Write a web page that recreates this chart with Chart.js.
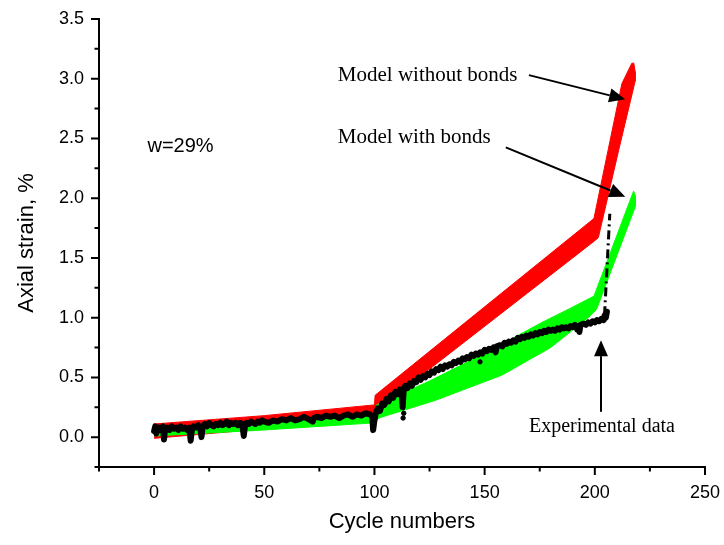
<!DOCTYPE html>
<html>
<head>
<title>Axial strain</title>
<script src="https://cdn.jsdelivr.net/npm/chart.js@4"></script>
<style>
  html, body { margin: 0; padding: 0; background: #fff; }
  .strain-chart { width: 724px; height: 545px; }
</style>
</head>
<body>
<div class="strain-chart">
  <canvas id="chart"></canvas>
</div>

<script type="text/javascript">
// model without bonds: upper and lower edge of the (cycle, strain %) band
const redUpper = [[0, 0.11], [50, 0.18], [100, 0.27], [100.3, 0.35], [199.6, 1.83], [206, 2.40], [212.3, 2.96], [216.8, 3.13], [217.7, 3.13]];
const redLower = [[0, -0.01], [50, 0.07], [100, 0.15], [100.6, 0.22], [200.4, 1.65], [201.6, 1.67], [210.8, 2.40], [218.3, 2.98], [218.3, 3.06]];

// model with bonds
const greenUpper = [[0, 0.07], [50, 0.13], [100, 0.20], [101, 0.27], [125, 0.47], [150, 0.70], [176, 0.96], [188, 1.07], [199.6, 1.18], [217.6, 2.06]];
const greenLower = [[0, 0.01], [50, 0.06], [100, 0.12], [102, 0.16], [128, 0.31], [158, 0.52], [180, 0.75], [197, 1.00], [200.8, 1.07], [218.4, 1.93], [218.4, 2.02]];

// experimental data (cycle, strain %)
const expCycles = [
  0, 0.5, 1, 2, 3, 4, 4.5, 5, 6, 7, 8, 9, 10, 11, 12, 13, 14, 15, 16, 16.6, 17.2, 18, 19, 20, 21, 21.5, 22, 23, 24, 25,
  26, 27, 28, 29, 30, 31, 32, 33, 34, 35, 36, 37, 38, 39, 40, 40.7, 41.3, 42, 43, 44, 45, 46, 47, 48, 49, 50,
  52, 54, 56, 58, 60, 62, 64, 66, 68, 70, 72, 72.5, 74, 76, 78, 80, 82, 84, 86, 88, 90, 92, 94, 96, 98, 99, 99.4, 100,
  100.6, 101.5, 102.5, 103.5, 104.5, 105.5, 106.5, 107.5, 108.5, 109.5, 110.5, 111.5, 112.3, 112.8, 113.3, 114, 115,
  116, 117, 118, 119, 120, 121, 122, 123, 124, 125, 126, 127, 128, 129, 130, 131, 132, 133, 134, 135, 136, 137, 138,
  139, 140, 141, 142, 143, 144, 145, 146, 147, 148, 149, 150, 151, 152, 153, 154, 155, 155.5, 157, 158, 159, 160,
  161, 162, 163, 164, 165, 166, 167, 168, 169, 170, 171, 172, 173, 174, 175, 176, 177, 178, 179, 180, 181, 182, 183,
  184, 185, 186, 187, 188, 189, 190, 191, 192, 192.5, 193, 193.5, 195, 196, 197, 198, 199, 200, 201, 202, 203, 204,
  204.5, 205, 205.5
];
const expStrain = [
  0.05, 0.09, 0.03, 0.08, 0.06, 0.09, -0.02, 0.07, 0.08, 0.06, 0.09, 0.07, 0.08, 0.06, 0.09, 0.07, 0.08, 0.06, 0.08, -0.03, 0.07, 0.09, 0.08, 0.10, 0.07, 0.00, 0.08, 0.11, 0.09, 0.12,
  0.10, 0.09, 0.11, 0.10, 0.12, 0.10, 0.11, 0.13, 0.10, 0.12, 0.11, 0.12, 0.10, 0.12, 0.11, 0.01, 0.10, 0.12, 0.11, 0.13, 0.12, 0.11, 0.13, 0.12, 0.14, 0.13,
  0.12, 0.14, 0.13, 0.15, 0.14, 0.16, 0.14, 0.15, 0.17, 0.15, 0.13, 0.16, 0.17, 0.16, 0.18, 0.17, 0.18, 0.16, 0.18, 0.19, 0.17, 0.19, 0.18, 0.20, 0.19, 0.17, 0.06, 0.14,
  0.20, 0.24, 0.22, 0.28, 0.27, 0.32, 0.30, 0.35, 0.33, 0.38, 0.36, 0.40, 0.38, 0.25, 0.40, 0.43, 0.41,
  0.45, 0.43, 0.47, 0.46, 0.50, 0.48, 0.51, 0.50, 0.53, 0.52, 0.55, 0.54, 0.57, 0.56, 0.59, 0.57, 0.60, 0.59, 0.61, 0.60, 0.63, 0.62, 0.64,
  0.63, 0.66, 0.65, 0.67, 0.66, 0.69, 0.68, 0.70, 0.69, 0.71, 0.70, 0.73, 0.72, 0.74, 0.73, 0.75, 0.71, 0.76, 0.77, 0.76, 0.79, 0.78,
  0.80, 0.79, 0.81, 0.80, 0.83, 0.82, 0.84, 0.83, 0.85, 0.84, 0.86, 0.85, 0.87, 0.86, 0.88, 0.87, 0.89, 0.88, 0.90, 0.89, 0.90, 0.89, 0.91,
  0.90, 0.92, 0.91, 0.92, 0.91, 0.93, 0.92, 0.94, 0.90, 0.93, 0.88, 0.94, 0.95, 0.94, 0.96, 0.95, 0.97, 0.96, 0.98, 0.97, 0.99, 0.98,
  1.02, 1.00, 1.05
];
// stray readings and the final jump of the experiment
const expStray = [[112.6, 0.33], [113, 0.29], [113, 0.16], [113.3, 0.20], [147.9, 0.63]];
const expJump = [[204.4, 1.02], [206.8, 1.87]];

const toPoints = (pairs) => pairs.map(p => ({x: p[0], y: p[1]}));
const band = (upper, lower) => toPoints(upper.concat(lower.slice().reverse()));
const expPoints = expCycles.map((c, i) => ({x: c, y: expStrain[i]}));

// texts and arrows, placed in data units
const notes = [
  {text: 'Model without bonds', x: 83.4, y: 2.98, font: '21px "Liberation Serif", "Times New Roman", serif'},
  {text: 'Model with bonds', x: 83.4, y: 2.46, font: '21px "Liberation Serif", "Times New Roman", serif'},
  {text: 'w=29%', x: -3, y: 2.39, font: '20px "Liberation Sans", Arial, sans-serif'},
  {text: 'Experimental data', x: 170.1, y: 0.044, font: '20px "Liberation Serif", "Times New Roman", serif'}
];
const arrows = [
  {from: [170.1, 3.03], to: [213.8, 2.828]},
  {from: [159.6, 2.426], to: [213.8, 2.013]},
  {from: [202.8, 0.212], to: [202.8, 0.812]}
];

const annotate = {
  id: 'annotate',
  afterDatasetsDraw(chart) {
    const {ctx, scales: {x, y}} = chart;
    ctx.save();
    ctx.fillStyle = '#000';
    ctx.strokeStyle = '#000';
    ctx.textBaseline = 'alphabetic';
    ctx.textAlign = 'left';
    for (const n of notes) {
      ctx.font = n.font;
      ctx.fillText(n.text, x.getPixelForValue(n.x), y.getPixelForValue(n.y));
    }
    for (const a of arrows) {
      const x0 = x.getPixelForValue(a.from[0]), y0 = y.getPixelForValue(a.from[1]);
      const x1 = x.getPixelForValue(a.to[0]), y1 = y.getPixelForValue(a.to[1]);
      const ang = Math.atan2(y1 - y0, x1 - x0);
      const len = 16, half = 7;
      const bx = x1 - len * Math.cos(ang), by = y1 - len * Math.sin(ang);
      ctx.lineWidth = 2;
      ctx.beginPath();
      ctx.moveTo(x0, y0);
      ctx.lineTo(bx, by);
      ctx.stroke();
      ctx.beginPath();
      ctx.moveTo(x1, y1);
      ctx.lineTo(bx + half * Math.sin(ang), by - half * Math.cos(ang));
      ctx.lineTo(bx - half * Math.sin(ang), by + half * Math.cos(ang));
      ctx.closePath();
      ctx.fill();
    }
    ctx.restore();
  },
  afterDraw(chart) {
    // outward tick marks, long on labelled values, short in between
    const {ctx, scales: {x, y}} = chart;
    ctx.save();
    ctx.strokeStyle = '#000';
    ctx.lineWidth = 2;
    ctx.beginPath();
    for (const t of x.ticks) {
      const px = x.getPixelForValue(t.value);
      ctx.moveTo(px, x.top);
      ctx.lineTo(px, x.top + (t.label !== '' ? 8 : 4.5));
    }
    for (const t of y.ticks) {
      const py = y.getPixelForValue(t.value);
      ctx.moveTo(y.right, py);
      ctx.lineTo(y.right - (t.label !== '' ? 8 : 4.5), py);
    }
    ctx.stroke();
    ctx.restore();
  }
};

const sans = 'Liberation Sans, Arial, sans-serif';
const ctx = document.getElementById('chart');
let chart = new Chart(ctx, {
  type: 'scatter',
  data: {
    datasets: [
      {
        label: 'Experimental data',
        data: expPoints,
        showLine: true,
        borderColor: '#000',
        borderWidth: 6,
        borderJoinStyle: 'round',
        borderCapStyle: 'round',
        pointRadius: 0,
        order: 0
      },
      {
        label: 'Experimental stray points',
        data: toPoints(expStray),
        backgroundColor: '#000',
        borderColor: '#000',
        pointRadius: 2.2,
        order: 0
      },
      {
        label: 'Experimental jump',
        data: toPoints(expJump),
        showLine: true,
        borderColor: '#000',
        borderWidth: 3,
        borderDash: [9, 4, 2, 4],
        pointRadius: 0,
        order: 0
      },
      {
        label: 'Model with bonds',
        data: band(greenUpper, greenLower),
        showLine: true,
        fill: 'shape',
        backgroundColor: '#00ff00',
        borderColor: '#00ff00',
        borderWidth: 1,
        pointRadius: 0,
        order: 1
      },
      {
        label: 'Model without bonds',
        data: band(redUpper, redLower),
        showLine: true,
        fill: 'shape',
        backgroundColor: '#ff0000',
        borderColor: '#ff0000',
        borderWidth: 1,
        pointRadius: 0,
        order: 2
      }
    ]
  },
  options: {
    responsive: true,
    maintainAspectRatio: false,
    animation: false,
    layout: {padding: {top: 19, right: 19, left: 0, bottom: 0}},
    plugins: {legend: {display: false}, tooltip: {enabled: false}},
    scales: {
      x: {
        type: 'linear',
        min: -25,
        max: 250,
        grid: {display: false},
        border: {display: true, color: '#000', width: 2},
        ticks: {
          stepSize: 25,
          padding: 7,
          color: '#000',
          font: {family: sans, size: 18},
          maxRotation: 0,
          autoSkip: false,
          callback: (v) => (v % 50 === 0 ? String(v) : '')
        },
        title: {
          display: true,
          text: 'Cycle numbers',
          color: '#000',
          font: {family: sans, size: 22},
          padding: {top: 0, bottom: 10}
        },
        afterFit: (s) => { s.height = 78; s.paddingLeft = 0; s.paddingRight = 0; }
      },
      y: {
        type: 'linear',
        min: -0.25,
        max: 3.5,
        grid: {display: false},
        border: {display: true, color: '#000', width: 2},
        ticks: {
          stepSize: 0.25,
          padding: 7,
          color: '#000',
          font: {family: sans, size: 18},
          autoSkip: false,
          callback: (v) => (Math.round(v * 4) % 2 === 0 ? v.toFixed(1) : '')
        },
        title: {
          display: true,
          text: 'Axial strain, %',
          color: '#000',
          font: {family: sans, size: 22},
          padding: {top: 14, bottom: 0}
        },
        afterFit: (s) => { s.width = 99; s.paddingTop = 0; s.paddingBottom = 0; }
      }
    }
  },
  plugins: [annotate]
});
</script>
</body>
</html>
